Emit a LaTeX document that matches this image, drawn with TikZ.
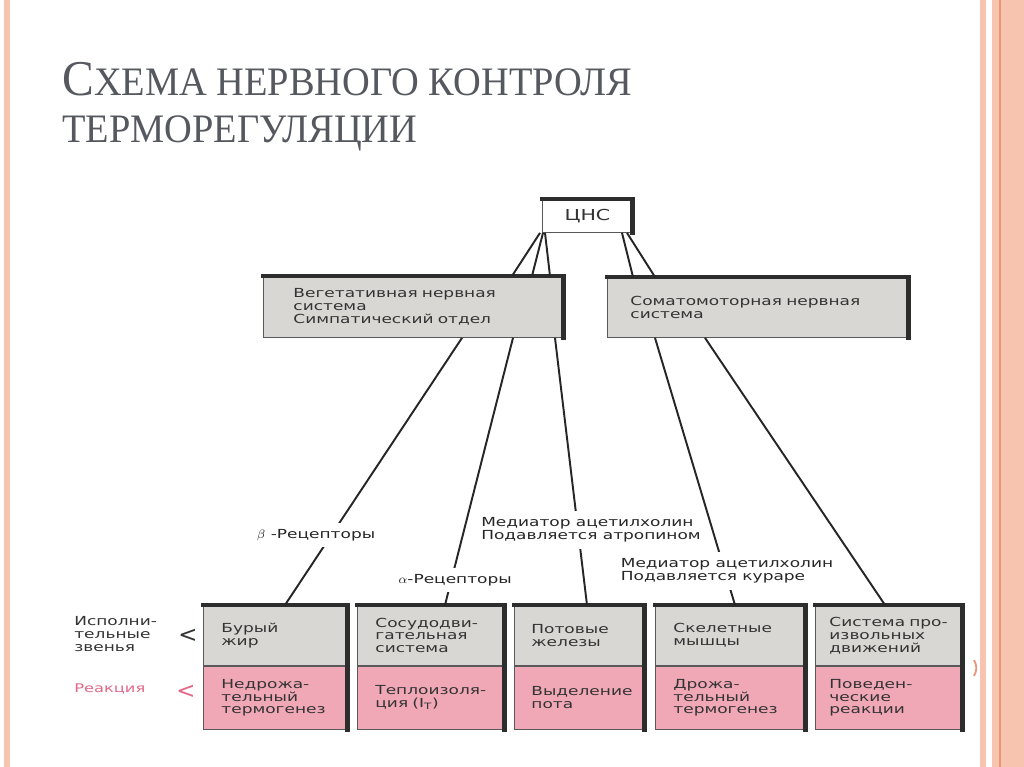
\documentclass[tikz,border=0pt]{standalone}
\usepackage{fontspec}
\setmainfont{Liberation Serif}
\newfontfamily\titlefont[FakeStretch=0.95]{Liberation Serif}
\newfontfamily\diagfont[FakeStretch=1.36]{DejaVu Sans}
\newfontfamily\markfont{DejaVu Sans}
\usetikzlibrary{calc}
\definecolor{boxgray}{RGB}{217,215,212}
\definecolor{boxpink}{RGB}{240,168,182}
\definecolor{rimdark}{RGB}{45,45,45}
\definecolor{reapink}{RGB}{226,104,136}
\definecolor{titlegray}{RGB}{85,88,95}
\definecolor{stripe}{RGB}{247,196,176}
\definecolor{stripedark}{RGB}{232,150,118}
\tikzset{
  box/.style={draw=black!65, line width=0.5pt, inner ysep=0pt, align=left,
    text=black!80, font=\diagfont\fontsize{7.1}{7.3}\selectfont},
  rim/.style={draw=rimdark, line width=2.8pt, line cap=rect},
  link/.style={draw=black!85, line width=1.1pt},
  tag/.style={fill=white, inner xsep=0.5pt, inner ysep=1.3mm, align=left,
    text=black!85, font=\diagfont\fontsize{7.1}{7.3}\selectfont}
}

\begin{document}
\begin{tikzpicture}[x=0.2mm, y=-0.2mm]
		%%%%% START %%%%%
		\useasboundingbox (0, 0) rectangle (1024, 767);
		\fill[white] (0, 0) rectangle (1024, 767);
		
		% side stripes
		\fill[stripe] (4, 0) rectangle (10, 767);
		\fill[stripe] (980, 0) rectangle (986, 767);
		\fill[stripe] (992, 0) rectangle (1024, 767);
		\draw[stripedark, line width=0.6pt] (1000, 0) -- (1000, 767);
		\draw[stripedark, line width=1pt] (974, 660) to[bend left=30] (974, 676);
		
		% title
		\node[anchor=base west, inner sep=0pt, text=titlegray, font=\titlefont] (title1) at (62, 95)
			{{\fontsize{28.5}{30}\selectfont С}{\fontsize{23}{28}\selectfont ХЕМА НЕРВНОГО КОНТРОЛЯ}};
		\node[anchor=base west, inner sep=0pt, text=titlegray, font=\titlefont] (title2) at (62, 142)
			{\fontsize{23}{28}\selectfont ТЕРМОРЕГУЛЯЦИИ};
		
		% upper boxes
		\node[box, fill=white, anchor=north west, minimum width=18mm, minimum height=6.6mm, align=center,
			font=\diagfont\fontsize{8.6}{9}\selectfont] (cns) at (542, 199) {ЦНС};
		\node[box, fill=boxgray, anchor=north west, text width=48mm, inner xsep=6mm, minimum height=12.2mm] (veg) at (263, 276)
			{Вегетативная нервная\\система\\Симпатический отдел};
		\node[box, fill=boxgray, anchor=north west, text width=51mm, inner xsep=4.6mm, minimum height=12mm] (soma) at (607, 277)
			{Соматомоторная нервная\\система};
		
		% effectors and reactions
		\node[box, fill=boxgray, anchor=north west, text width=21.6mm, inner xsep=3.6mm, minimum height=12mm] (eff1) at (203, 605) {Бурый\\жир};
		\node[box, fill=boxpink, anchor=north, text width=21.6mm, inner xsep=3.6mm, minimum height=12.6mm] (rea1) at (eff1.south) {Недрожа-\\тельный\\термогенез};
		\node[box, fill=boxgray, anchor=north west, text width=22.2mm, inner xsep=3.6mm, minimum height=12mm] (eff2) at (357, 605) {Сосудодви-\\гательная\\система};
		\node[box, fill=boxpink, anchor=north, text width=22.2mm, inner xsep=3.6mm, minimum height=12.6mm] (rea2) at (eff2.south) {Теплоизоля-\\ция (I\textsubscript{T})};
		\node[box, fill=boxgray, anchor=north west, text width=19.2mm, inner xsep=3.4mm, minimum height=12mm] (eff3) at (514, 605) {Потовые\\железы};
		\node[box, fill=boxpink, anchor=north, text width=19.2mm, inner xsep=3.4mm, minimum height=12.6mm] (rea3) at (eff3.south) {Выделение\\пота};
		\node[box, fill=boxgray, anchor=north west, text width=22.8mm, inner xsep=3.6mm, minimum height=12mm] (eff4) at (655, 605) {Скелетные\\мышцы};
		\node[box, fill=boxpink, anchor=north, text width=22.8mm, inner xsep=3.6mm, minimum height=12.6mm] (rea4) at (eff4.south) {Дрожа-\\тельный\\термогенез};
		\node[box, fill=boxgray, anchor=north west, text width=23.8mm, inner xsep=2.8mm, minimum height=12mm] (eff5) at (815, 605) {Система про-\\извольных\\движений};
		\node[box, fill=boxpink, anchor=north, text width=23.8mm, inner xsep=2.8mm, minimum height=12.6mm] (rea5) at (eff5.south) {Поведен-\\ческие\\реакции};
		
		\foreach \n in {cns, veg, soma}
			\draw[rim] (\n.north west) -- (\n.north east) -- (\n.south east);
		\foreach \i in {1,...,5}
			\draw[rim] (eff\i.north west) -- (eff\i.north east) -- (rea\i.south east);
		
		% row headings
		\node[anchor=west, align=left, inner sep=0pt, text=black!80, font=\diagfont\fontsize{7.1}{7.3}\selectfont] (effhead) at (74, 634) {Исполни-\\тельные\\звенья};
		\node[anchor=west, inner sep=0pt, text=reapink, font=\diagfont\fontsize{6.8}{7}\selectfont] (reahead) at (74, 689) {Реакция};
		\node[inner sep=0pt, text=black!80, font=\markfont\fontsize{13}{13}\selectfont] (effmark) at (188, 636) {<};
		\node[inner sep=0pt, text=reapink, font=\markfont\fontsize{13}{13}\selectfont] (reamark) at (186, 692) {<};
		
		% CNS to the two systems
		\draw[link] (cns.south -| 540,0) -- (veg.north -| 512,0);
		\draw[link] (cns.south -| 543,0) -- (veg.north -| 532,0);
		\draw[link] (cns.south -| 545,0) -- (veg.north -| 550,0);
		\draw[link] (cns.south -| 622,0) -- (soma.north -| 633,0);
		\draw[link] (cns.south -| 627,0) -- (soma.north -| 655,0);
		
		% systems to effectors
		\draw[link] (veg.south -| 462,0) -- (eff1.north -| 285,0);
		\draw[link] (veg.south -| 513,0) -- (eff2.north -| 445,0);
		\draw[link] (veg.south -| 555,0) -- (eff3.north -| 587,0);
		\draw[link] (soma.south -| 655,0) -- (eff4.north -| 735,0);
		\draw[link] (soma.south -| 705,0) -- (eff5.north -| 885,0);
		
		\node[tag] (beta) at (316, 535) {$\beta$ -Рецепторы};
		\node[tag] (alpha) at (455, 580) {$\alpha$-Рецепторы};
		\node[tag] (atrop) at (591, 530) {Медиатор ацетилхолин\\Подавляется атропином};
		\node[tag] (kurare) at (727, 571) {Медиатор ацетилхолин\\Подавляется кураре};
		
		%%%%% END %%%%%
\end{tikzpicture}
\end{document}
